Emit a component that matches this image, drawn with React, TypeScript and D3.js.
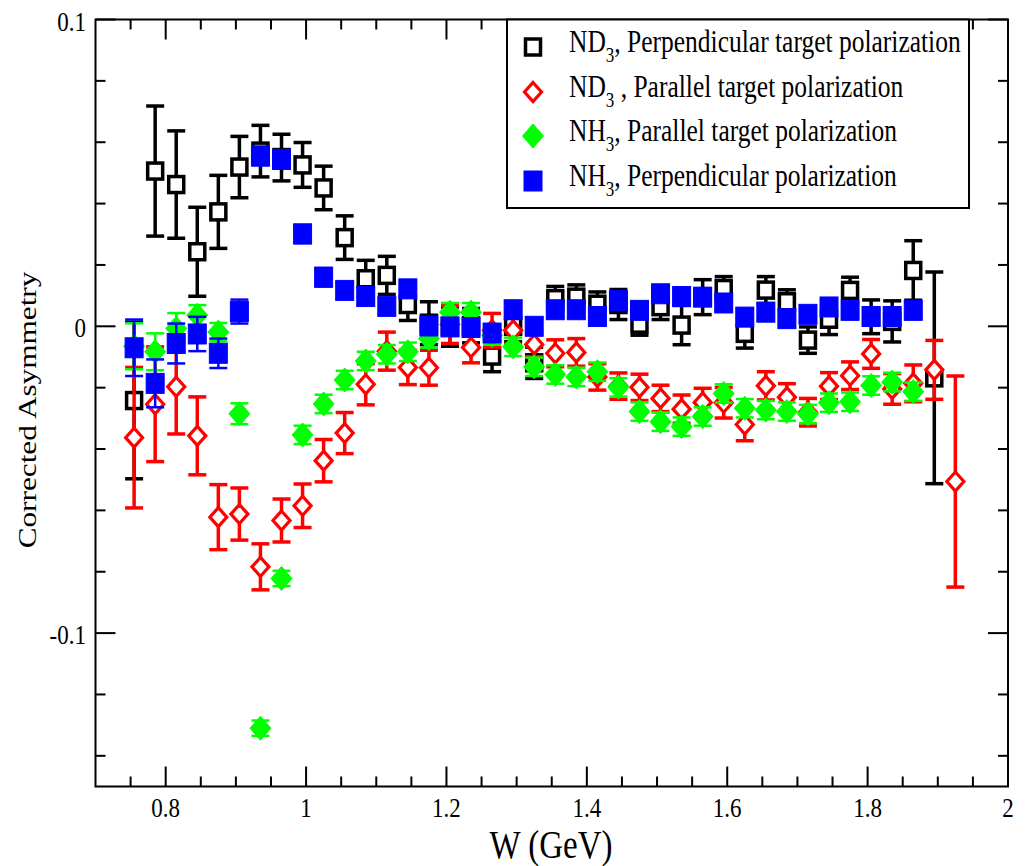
import React from "react";
import * as d3 from "d3";

// W bins (GeV)
const W = [0.755, 0.785, 0.815, 0.845, 0.875, 0.905, 0.935, 0.965, 0.995, 1.025,
  1.055, 1.085, 1.115, 1.145, 1.175, 1.205, 1.235, 1.265, 1.295, 1.325,
  1.355, 1.385, 1.415, 1.445, 1.475, 1.505, 1.535, 1.565, 1.595, 1.625,
  1.655, 1.685, 1.715, 1.745, 1.775, 1.805, 1.835, 1.865, 1.895, 1.925];

// ND3, perpendicular target polarization (black open squares)
const nd3PerpY = [-0.0242, 0.0506, 0.0462, 0.0243, 0.0373, 0.0519, 0.0571, 0.055, 0.0526, 0.0451,
  0.0289, 0.0155, 0.0166, 0.0071, 0.001, -0.0001, 0.0002, -0.0097, 0.0, -0.0119,
  0.009, 0.0095, 0.0072, 0.0071, 0.0007, 0.0064, 0.0004, 0.0095, 0.0123, -0.0023,
  0.0118, 0.008, -0.0045, 0.0023, 0.0117, 0.0031, 0.0016, 0.0182, -0.0168];
const nd3PerpErr = [0.0255, 0.0212, 0.0175, 0.0145, 0.0119, 0.01, 0.0084, 0.0076, 0.0073, 0.0071,
  0.0071, 0.006, 0.0062, 0.0052, 0.007, 0.0064, 0.0056, 0.0051, 0.005, 0.0051,
  0.004, 0.004, 0.004, 0.0049, 0.0036, 0.0042, 0.0064, 0.0057, 0.0039, 0.0048,
  0.0044, 0.0039, 0.0043, 0.005, 0.0043, 0.0055, 0.0067, 0.0097, 0.0345];

// ND3, parallel target polarization (red open diamonds)
const nd3ParY = [-0.0363, -0.0254, -0.0197, -0.0357, -0.0622, -0.0612, -0.0784, -0.0633, -0.0585, -0.0438,
  -0.0348, -0.0189, -0.0081, -0.0134, -0.0135, 0.0006, -0.0069, -0.0013, -0.0013, -0.0059,
  -0.0088, -0.0085, -0.0165, -0.0195, -0.0199, -0.0235, -0.027, -0.0248, -0.0249, -0.032,
  -0.0194, -0.0231, -0.028, -0.0195, -0.0161, -0.009, -0.0204, -0.0186, -0.0142, -0.0506];
const nd3ParErr = [0.0229, 0.0187, 0.0154, 0.0127, 0.0106, 0.0085, 0.0075, 0.007, 0.0071, 0.0069,
  0.0067, 0.0067, 0.0062, 0.0056, 0.0057, 0.0062, 0.005, 0.0055, 0.0045, 0.004,
  0.0044, 0.0045, 0.0043, 0.0043, 0.0043, 0.0043, 0.0046, 0.0046, 0.005, 0.0053,
  0.0046, 0.0044, 0.0045, 0.0044, 0.0045, 0.0047, 0.005, 0.006, 0.0096, 0.0344];

// NH3, parallel target polarization (green filled diamonds)
const nh3ParY = [-0.0065, -0.0083, -0.0007, 0.0036, -0.0019, -0.0285, -0.131, -0.0822, -0.0354, -0.0253,
  -0.0175, -0.0113, -0.0091, -0.0083, -0.004, 0.0046, 0.0046, -0.003, -0.0067, -0.0132,
  -0.0157, -0.0165, -0.0148, -0.0199, -0.0278, -0.0311, -0.0327, -0.0294, -0.0219, -0.0267,
  -0.0273, -0.0278, -0.0286, -0.0249, -0.0246, -0.0193, -0.0182, -0.0213];
const nh3ParErr = [0.0075, 0.006, 0.005, 0.0033, 0.003, 0.0034, 0.0025, 0.0025, 0.003, 0.003,
  0.003, 0.003, 0.003, 0.003, 0.003, 0.003, 0.003, 0.003, 0.003, 0.003,
  0.003, 0.003, 0.003, 0.003, 0.003, 0.003, 0.003, 0.003, 0.003, 0.003,
  0.003, 0.003, 0.003, 0.003, 0.003, 0.003, 0.003, 0.003];

// NH3, perpendicular polarization (blue filled squares)
const nh3PerpY = [-0.007, -0.0186, -0.0056, -0.0025, -0.0088, 0.0048, 0.0555, 0.0544, 0.0301, 0.016,
  0.0117, 0.0097, 0.0065, 0.0122, 0.0001, -0.0002, -0.0004, -0.0022, 0.0054, 0.0,
  0.0054, 0.0054, 0.0032, 0.0084, 0.0052, 0.0106, 0.0097, 0.0095, 0.0076, 0.003,
  0.0046, 0.0025, 0.0039, 0.0063, 0.0052, 0.0032, 0.0032, 0.0052];
const nh3PerpErr = [0.0092, 0.0078, 0.0065, 0.0056, 0.0048, 0.0039, 0.003, 0.003, 0.003, 0.003,
  0.0025, 0.0025, 0.0025, 0.0025, 0.0025, 0.0025, 0.0025, 0.0025, 0.0025, 0.0025,
  0.0025, 0.0025, 0.0025, 0.0025, 0.0025, 0.0025, 0.0025, 0.0025, 0.0025, 0.0025,
  0.0025, 0.0025, 0.0025, 0.0025, 0.0025, 0.0025, 0.0025, 0.0025];

const xTickLabels = ["0.8", "1", "1.2", "1.4", "1.6", "1.8", "2"];
const xMajorTicks = [0.8, 1.0, 1.2, 1.4, 1.6, 1.8, 2.0];
const yTickLabels = ["-0.1", "0", "0.1"];
const yMajorTicks = [-0.1, 0, 0.1];

const legendLabels = [
  { main: "ND", sub: "3", rest: ", Perpendicular target polarization" },
  { main: "ND", sub: "3", rest: " , Parallel target polarization" },
  { main: "NH", sub: "3", rest: ", Parallel target polarization" },
  { main: "NH", sub: "3", rest: ", Perpendicular polarization" },
];

const FONT = "'Liberation Serif', 'Times New Roman', serif";
const SY = 1.2;

const X0 = 95.5, X1 = 1008, Y0 = 19.5, Y1 = 786.5;
const x = d3.scaleLinear().domain([0.7, 2.0]).range([X0, X1]);
const y = d3.scaleLinear().domain([-0.15, 0.1]).range([Y1, Y0]);

type Kind = "openSquare" | "openDiamond" | "fillDiamond" | "fillSquare";

function Marker({ kind, cx, cy }: { kind: Kind; cx: number; cy: number }) {
  if (kind === "openSquare") {
    const w = 15, h = 16;
    return <rect x={cx - w / 2} y={cy - h / 2} width={w} height={h} fill="#fff" stroke="#000" strokeWidth={3.5} />;
  }
  if (kind === "fillSquare") {
    const w = 18, h = 20;
    return <rect x={cx - w / 2} y={cy - h / 2} width={w} height={h} fill="#0000ff" stroke="#0000ff" strokeWidth={1} />;
  }
  if (kind === "openDiamond") {
    const w = 8.5, h = 9.5;
    return <path d={`M${cx},${cy - h}L${cx + w},${cy}L${cx},${cy + h}L${cx - w},${cy}Z`} fill="#fff" stroke="#ff0000" strokeWidth={3.2} />;
  }
  const w = 10.5, h = 12;
  return <path d={`M${cx},${cy - h}L${cx + w},${cy}L${cx},${cy + h}L${cx - w},${cy}Z`} fill="#00ff00" stroke="#00ff00" strokeWidth={1} />;
}

function Series({ ys, errs, color, kind, sw }: { ys: number[]; errs: number[]; color: string; kind: Kind; sw: number }) {
  const cap = 9;
  return (
    <g>
      {ys.map((v, i) => {
        const cx = x(W[i]);
        const yt = y(v + errs[i]);
        const yb = y(v - errs[i]);
        return (
          <g key={"e" + i} stroke={color} strokeWidth={sw}>
            <line x1={cx} x2={cx} y1={yt} y2={yb} />
            <line x1={cx - cap} x2={cx + cap} y1={yt} y2={yt} />
            <line x1={cx - cap} x2={cx + cap} y1={yb} y2={yb} />
          </g>
        );
      })}
      {ys.map((v, i) => (
        <Marker key={"m" + i} kind={kind} cx={x(W[i])} cy={y(v)} />
      ))}
    </g>
  );
}

export default function App() {
  const xMinor = d3.range(0.75, 2.0, 0.05).filter((t) => !xMajorTicks.some((m) => Math.abs(m - t) < 1e-6));
  const yMinor = d3.range(-0.14, 0.1, 0.02).filter((t) => !yMajorTicks.some((m) => Math.abs(m - t) < 1e-6));
  const major = 20, minor = 10;
  const legendKinds: Kind[] = ["openSquare", "openDiamond", "fillDiamond", "fillSquare"];
  const legendBase = [52, 97, 141, 186];

  return (
    <svg width={1028} height={866} style={{ position: "absolute", left: 0, top: 0, background: "#fff" }}
      fontFamily={FONT}>
      <rect x={0} y={0} width={1028} height={866} fill="#fff" />
      {/* ticks */}
      <g stroke="#000" strokeWidth={2}>
        {xMajorTicks.map((t) => (
          <g key={"xM" + t}>
            <line x1={x(t)} x2={x(t)} y1={Y1} y2={Y1 - major} />
            <line x1={x(t)} x2={x(t)} y1={Y0} y2={Y0 + major} />
          </g>
        ))}
        {xMinor.map((t) => (
          <g key={"xm" + t}>
            <line x1={x(t)} x2={x(t)} y1={Y1} y2={Y1 - minor} />
            <line x1={x(t)} x2={x(t)} y1={Y0} y2={Y0 + minor} />
          </g>
        ))}
        {yMajorTicks.map((t) => (
          <g key={"yM" + t}>
            <line x1={X0} x2={X0 + major} y1={y(t)} y2={y(t)} />
            <line x1={X1} x2={X1 - major} y1={y(t)} y2={y(t)} />
          </g>
        ))}
        {yMinor.map((t) => (
          <g key={"ym" + t}>
            <line x1={X0} x2={X0 + minor} y1={y(t)} y2={y(t)} />
            <line x1={X1} x2={X1 - minor} y1={y(t)} y2={y(t)} />
          </g>
        ))}
      </g>
      <rect x={X0} y={Y0} width={X1 - X0} height={Y1 - Y0} fill="none" stroke="#000" strokeWidth={2} />

      {/* tick labels */}
      {xMajorTicks.map((t, i) => (
        <text key={"xl" + t} transform={`translate(${x(t)},817) scale(1,${SY})`} textAnchor="middle" fontSize={23}>
          {xTickLabels[i]}
        </text>
      ))}
      {yMajorTicks.map((t, i) => (
        <text key={"yl" + t} transform={`translate(86,${y(t) + 11}) scale(1,${SY})`} textAnchor="end" fontSize={23}>
          {yTickLabels[i]}
        </text>
      ))}
      <text transform={`translate(551,858) scale(1,${SY})`} textAnchor="middle" fontSize={33}>W (GeV)</text>
      <text transform={`translate(36,410) rotate(-90) scale(1.25,1)`} textAnchor="middle" fontSize={25}>
        Corrected Asymmetry
      </text>

      {/* data */}
      <Series ys={nd3PerpY} errs={nd3PerpErr} color="#000" kind="openSquare" sw={3.5} />
      <Series ys={nd3ParY} errs={nd3ParErr} color="#ff0000" kind="openDiamond" sw={3.5} />
      <Series ys={nh3ParY} errs={nh3ParErr} color="#00ff00" kind="fillDiamond" sw={2.5} />
      <Series ys={nh3PerpY} errs={nh3PerpErr} color="#0000ff" kind="fillSquare" sw={2.5} />

      {/* legend */}
      <rect x={507} y={Y0} width={462} height={188.5} fill="#fff" stroke="#000" strokeWidth={2} />
      {legendLabels.map((l, i) => (
        <g key={"lg" + i}>
          <Marker kind={legendKinds[i]} cx={533} cy={legendBase[i] - 5} />
          <text transform={`translate(569,${legendBase[i]}) scale(1,${SY})`} fontSize={25.5}>
            {l.main}
            <tspan fontSize={17} dy={8.5}>{l.sub}</tspan>
            <tspan fontSize={25.5} dy={-8.5}>{l.rest}</tspan>
          </text>
        </g>
      ))}
    </svg>
  );
}
